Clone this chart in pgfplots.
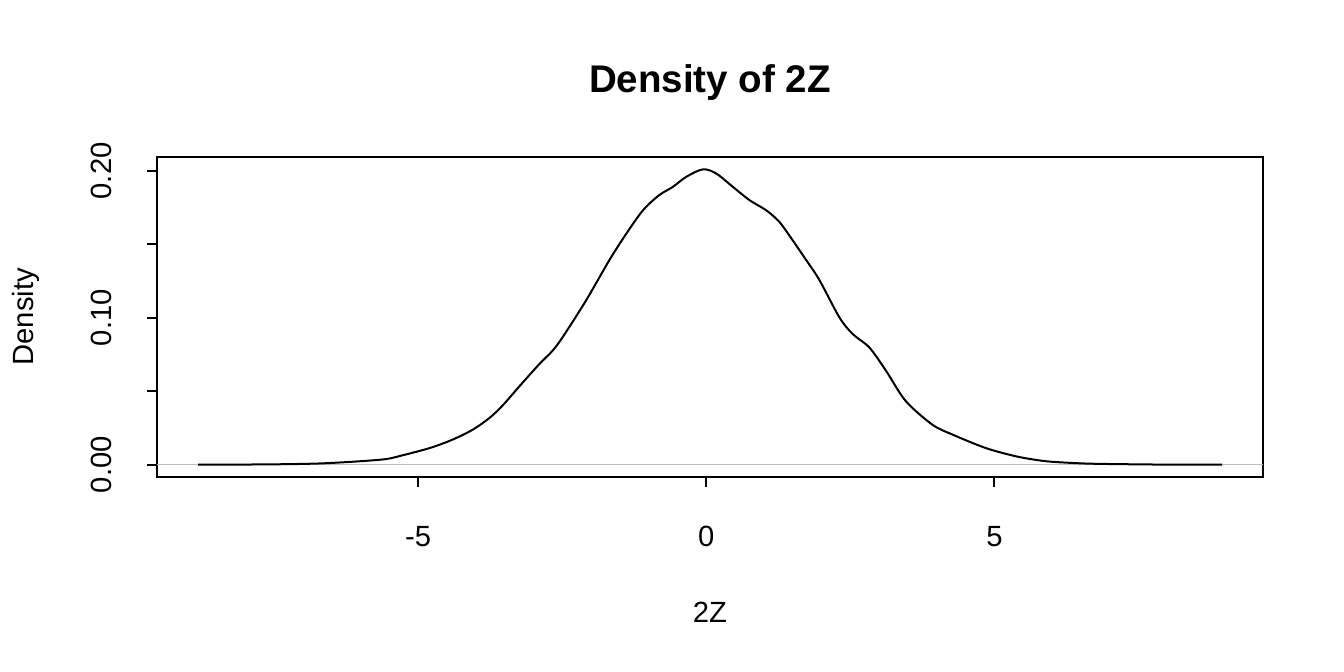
\documentclass[border=0pt]{standalone}
\usepackage{fontspec}
\setmainfont{Liberation Sans}
\usepackage{pgfplots}
\pgfplotsset{compat=1.18}

% kernel density estimate of 2Z
\pgfplotstableread{
x      y
-8.82  0.0000
-8.30  0.0000
-7.93  0.0001
-7.35  0.0003
-6.90  0.0006
-6.54  0.0011
-6.02  0.0023
-5.56  0.0038
-5.27  0.0064
-4.80  0.0113
-4.40  0.0171
-4.05  0.0239
-3.76  0.0319
-3.53  0.0405
-3.24  0.0535
-2.90  0.0684
-2.67  0.0775
-2.49  0.0870
-2.09  0.1116
-1.68  0.1394
-1.39  0.1572
-1.10  0.1731
-0.82  0.1834
-0.58  0.1891
-0.35  0.1959
-0.06  0.2010
 0.17  0.1982
 0.46  0.1891
 0.75  0.1800
 1.04  0.1731
 1.27  0.1651
 1.50  0.1526
 1.73  0.1394
 1.96  0.1258
 2.31  0.1002
 2.54  0.0889
 2.83  0.0797
 3.12  0.0638
 3.46  0.0433
 3.92  0.0273
 4.27  0.0205
 4.85  0.0113
 5.37  0.0057
 5.78  0.0029
 6.06  0.0018
 6.64  0.0007
 7.51  0.0002
 8.20  0.0000
 8.95  0.0000
}\densitytable

\begin{document}
\begin{tikzpicture}
\path[use as bounding box] (0,0) rectangle (504bp,252bp);
\begin{axis}[
    at={(58.875bp,73.31bp)}, anchor=south west,
    scale only axis,
    width=414.75bp, height=119.81bp,
    xmin=-9.533, xmax=9.660,
    ymin=-0.00806, ymax=0.2094,
    xtick={-5,0,5},
    ytick={0,0.05,0.10,0.15,0.20},
    yticklabels={0.00,,0.10,,0.20},
    tick pos=left,
    tick align=outside,
    major tick length=3.75bp,
    every tick/.style={black, line width=0.75bp},
    axis line style={line width=0.75bp},
    /pgf/number format/assume math mode=true,
    tick label style={font=\fontsize{11}{13}\selectfont, inner sep=0pt},
    xticklabel style={anchor=base},
    yticklabel style={rotate=90, anchor=base},
    xticklabel shift=22.5bp,
    yticklabel shift=13.25bp,
    title={Density of 2Z},
    every axis title/.style={at={(axis description cs:0.5,1.2013)}, anchor=base,
        font=\bfseries\fontsize{14.5}{17}\selectfont, inner sep=0pt},
    xlabel={2Z},
    every axis x label/.style={at={(axis description cs:0.5,-0.4563)},
        anchor=base, font=\fontsize{11}{13}\selectfont, inner sep=0pt},
    ylabel={Density},
    every axis y label/.style={at={(axis description cs:-0.1118,0.5)},
        rotate=90, anchor=base, font=\fontsize{11}{13}\selectfont, inner sep=0pt},
]
\addplot[color={rgb,255:red,190;green,190;blue,190}, line width=0.6bp]
    coordinates {(-9.533,0) (9.660,0)};
\addplot[black, line width=0.75bp, smooth, tension=0.5] table[x=x, y=y] {\densitytable};
\end{axis}
\end{tikzpicture}
\end{document}
